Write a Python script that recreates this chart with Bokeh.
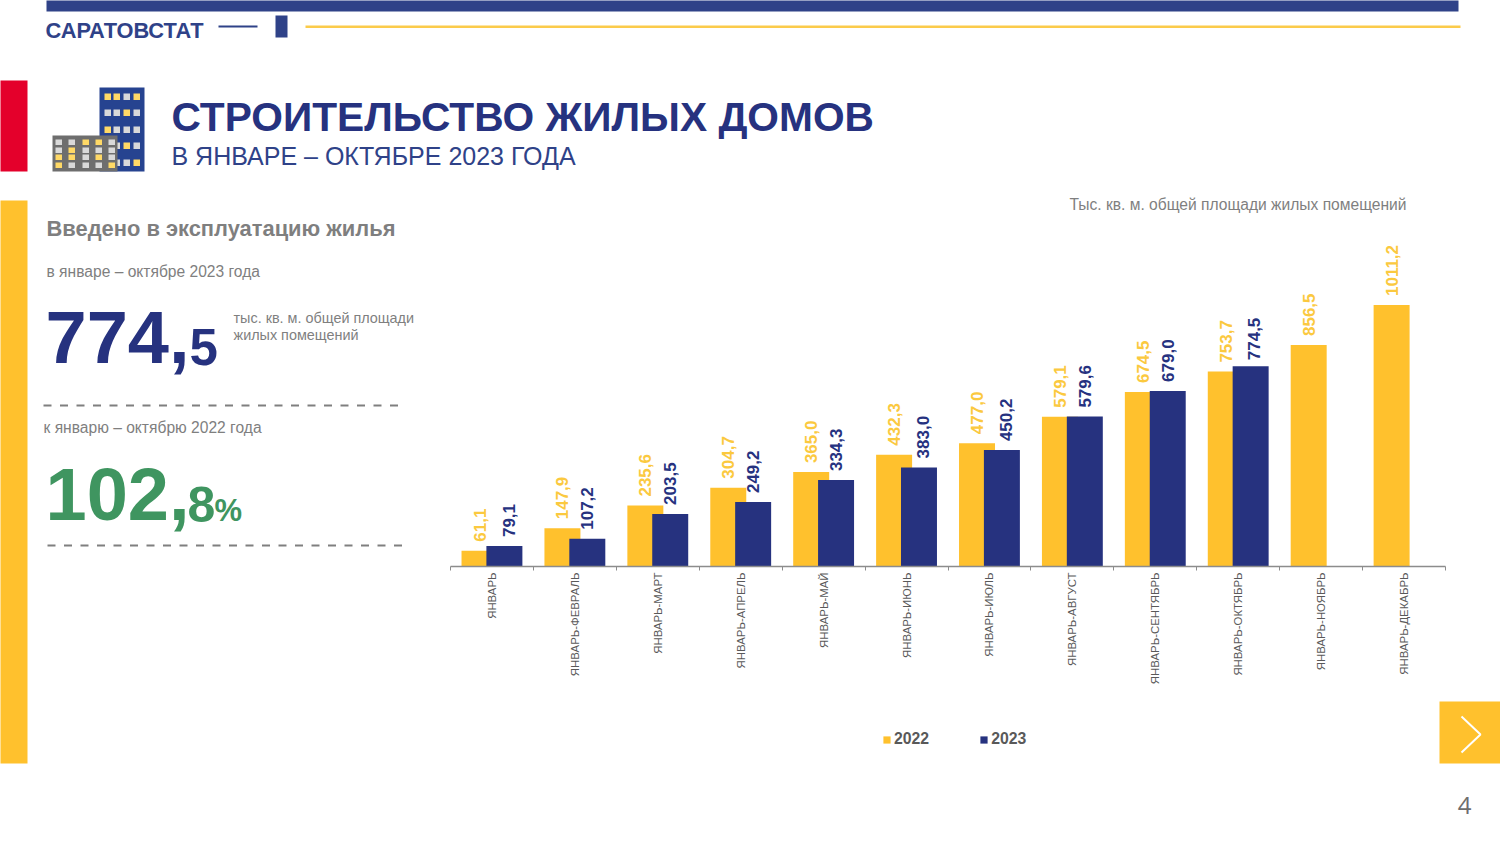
import math
from bokeh.plotting import figure
from bokeh.layouts import column
from bokeh.models import (Range1d, LinearAxis, FixedTicker, Label, BoxAnnotation,
                          ColumnDataSource, Legend, LegendItem)
from bokeh.core.properties import value
from bokeh.embed import file_html
from bokeh.resources import INLINE

categories = ["ЯНВАРЬ", "ЯНВАРЬ-ФЕВРАЛЬ", "ЯНВАРЬ-МАРТ", "ЯНВАРЬ-АПРЕЛЬ", "ЯНВАРЬ-МАЙ", "ЯНВАРЬ-ИЮНЬ",
              "ЯНВАРЬ-ИЮЛЬ", "ЯНВАРЬ-АВГУСТ", "ЯНВАРЬ-СЕНТЯБРЬ", "ЯНВАРЬ-ОКТЯБРЬ", "ЯНВАРЬ-НОЯБРЬ", "ЯНВАРЬ-ДЕКАБРЬ"]
values_2022 = [61.1, 147.9, 235.6, 304.7, 365.0, 432.3, 477.0, 579.1, 674.5, 753.7, 856.5, 1011.2]
values_2023 = [79.1, 107.2, 203.5, 249.2, 334.3, 383.0, 450.2, 579.6, 679.0, 774.5]

NAVY = "#26327F"
BLUE = "#2F4288"
YEL = "#FFC12D"
GREY = "#7F7F7F"
GREEN = "#3F9560"
FONT = "Liberation Sans"

W, H = 1500, 844
d = figure(width=W, height=H, output_backend="svg", toolbar_location=None,
           x_range=Range1d(1, W + 1), y_range=Range1d(H + 1, 1),
           min_border=0, outline_line_color=None, background_fill_color="white", border_fill_color="white",
           x_axis_location=None, y_axis_location=None, frame_align=False)
d.grid.visible = False


def box(x0, y0, x1, y1, color):
    d.add_layout(BoxAnnotation(left=x0 + 1, right=x1 + 1, top=y0 + 1, bottom=y1 + 1,
                               fill_color=color, fill_alpha=1, line_color=None, level="underlay"))


def txt(x, y, s, size, color, bold=False, align="left", font=FONT):
    d.add_layout(Label(x=x, y=y, text=s,
                       text_font=font, text_font_size=f"{size}px", text_color=color,
                       text_font_style="bold" if bold else "normal",
                       text_align=align, text_baseline="middle"))


# frame decoration
box(46, -3, 1458, 11, BLUE)
box(218, 25, 257, 27, BLUE)
box(275, 15, 287, 37, BLUE)
box(305, 25, 1460, 27.5, "#FBCB4A")
box(-3, 80, 27, 171, "#E4002B")
box(-3, 200, 27, 763, YEL)
box(1439, 701, 1503, 763, YEL)
d.line([1462, 1481, 1462], [717, 735, 753], line_color="white", line_width=2, level="overlay")

# building icon
LY, LG = "#FFD966", "#D9D9D9"
box(99, 87, 144, 171, "#264390")
rows_b = [(93, "YYGY"), (109, "GGYG"), (126, "YGGG"), (142, "GGYG"), (159, "GGGY")]
for y, r in rows_b:
    for x, c in zip((104, 113, 123, 133), r):
        box(x, y, x + 6.5, y + 6.5, LY if c == "Y" else LG)
box(52, 135, 117, 171, "#6E6E6E")
rows_g = [(139, "GGYYG"), (147, "GYGGG"), (154, "YYGYG"), (162, "YGGGY")]
for y, r in rows_g:
    for x, c in zip((55, 68, 82, 95, 108), r):
        box(x, y, x + 6.5, y + 5.5, LY if c == "Y" else LG)

# headings
txt(46, 31, "САРАТОВСТАТ", 21.8, BLUE, True)
txt(172, 117, "СТРОИТЕЛЬСТВО ЖИЛЫХ ДОМОВ", 40.7, NAVY, True)
txt(172, 156, "В ЯНВАРЕ – ОКТЯБРЕ 2023 ГОДА", 25, BLUE)
txt(1407, 205, "Тыс. кв. м. общей площади жилых помещений", 15.6, GREY, align="right")

# left panel
txt(47, 229, "Введено в эксплуатацию жилья", 21.9, GREY, True)
txt(47, 272, "в январе – октябре 2023 года", 15.6, GREY)
txt(46, 337, "774,", 74, NAVY, True)
txt(190, 347, "5", 51, NAVY, True)
txt(234, 318, "тыс. кв. м. общей площади", 14.4, GREY)
txt(234, 335, "жилых помещений", 14.4, GREY)
for i in range(22):
    box(43 + i * 16.5, 404, 51 + i * 16.5, 406, GREY)
txt(44, 428, "к январю – октябрю 2022 года", 15.6, GREY)
txt(46, 494, "102,", 74, GREEN, True)
txt(188, 505, "8", 50, GREEN, True)
txt(215, 511, "%", 31, GREEN, True)
for i in range(22):
    box(47 + i * 16.5, 544, 55 + i * 16.5, 546, GREY)
txt(1465, 806, "4", 24, "#6E6E6E", align="center", font="Open Sans")

# chart, laid over the decoration
p = figure(width=W, height=H, output_backend="svg", toolbar_location=None,
           x_range=Range1d(0, 12), y_range=Range1d(0, 1280),
           min_border_left=450, min_border_right=55, min_border_top=235, min_border_bottom=278,
           outline_line_color=None, background_fill_color=None, border_fill_color=None,
           x_axis_location=None, y_axis_location=None, frame_align=False)
p.grid.visible = False
p.margin = (-H, 0, 0, 0)

GAP = 0.15
xs22 = [i + 0.5 - GAP for i in range(len(values_2022))]
xs23 = [i + 0.5 + GAP for i in range(len(values_2023))]
s22 = ColumnDataSource(dict(x=xs22, v=values_2022, t=[f"{v:.1f}".replace(".", ",") for v in values_2022]))
# a few of the reference's data labels sit off their bars' centres
nudge_x = [5, 0, 0, 0, 0, 4, 4, 0, 0, 3]
nudge_y = [-9, -9, -9, -9, -9, -9, -9, -9, -9, -6]
s23 = ColumnDataSource(dict(x=xs23, v=values_2023, t=[f"{v:.1f}".replace(".", ",") for v in values_2023],
                            dx=nudge_x, dy=nudge_y))
p.vbar(x="x", top="v", bottom=0, width=0.434, source=s22, fill_color=YEL, line_color=None)
p.vbar(x="x", top="v", bottom=0, width=0.434, source=s23, fill_color=NAVY, line_color=None)
p.text(x="x", y="v", text="t", source=s22, angle=math.pi / 2, y_offset=-9,
       text_align="left", text_baseline="middle", text_color="#FBC93F",
       text_font=value(FONT), text_font_size="17px", text_font_style="bold")
p.text(x="x", y="v", text="t", source=s23, angle=math.pi / 2, y_offset="dy", x_offset="dx",
       text_align="left", text_baseline="middle", text_color=NAVY,
       text_font=value(FONT), text_font_size="17px", text_font_style="bold")

centers = [i + 0.5 for i in range(len(categories))]
axis = LinearAxis(ticker=FixedTicker(ticks=centers, minor_ticks=list(range(len(categories) + 1))),
                  major_label_overrides={c: n for c, n in zip(centers, categories)},
                  major_label_orientation=math.pi / 2,
                  major_label_text_font=FONT, major_label_text_font_size="11.4px",
                  major_label_text_color="#595959", major_label_standoff=2,
                  major_tick_line_color=None, major_tick_in=0, major_tick_out=0,
                  minor_tick_in=0, minor_tick_out=4, minor_tick_line_color="#8C8C8C",
                  axis_line_color="#8C8C8C", axis_line_width=1.3)
p.add_layout(axis, "below")

# legend keys: off-canvas glyphs that exist only to give the legend its swatches
k22 = d.quad(left=[-30], right=[-20], top=[-30], bottom=[-20], fill_color=YEL, line_color=None)
k23 = d.quad(left=[-30], right=[-20], top=[-30], bottom=[-20], fill_color=NAVY, line_color=None)
legend = Legend(items=[LegendItem(label="2022", renderers=[k22]), LegendItem(label="2023", renderers=[k23])],
                orientation="horizontal", location=(882, 96), glyph_width=9, glyph_height=9,
                spacing=50, padding=4, margin=0, label_standoff=3, background_fill_alpha=0, border_line_color=None,
                label_text_font=FONT, label_text_font_size="15.8px", label_text_font_style="bold",
                label_text_color="#595959")
d.add_layout(legend, "center")

open("out.html", "w").write(file_html(column(d, p), INLINE))
